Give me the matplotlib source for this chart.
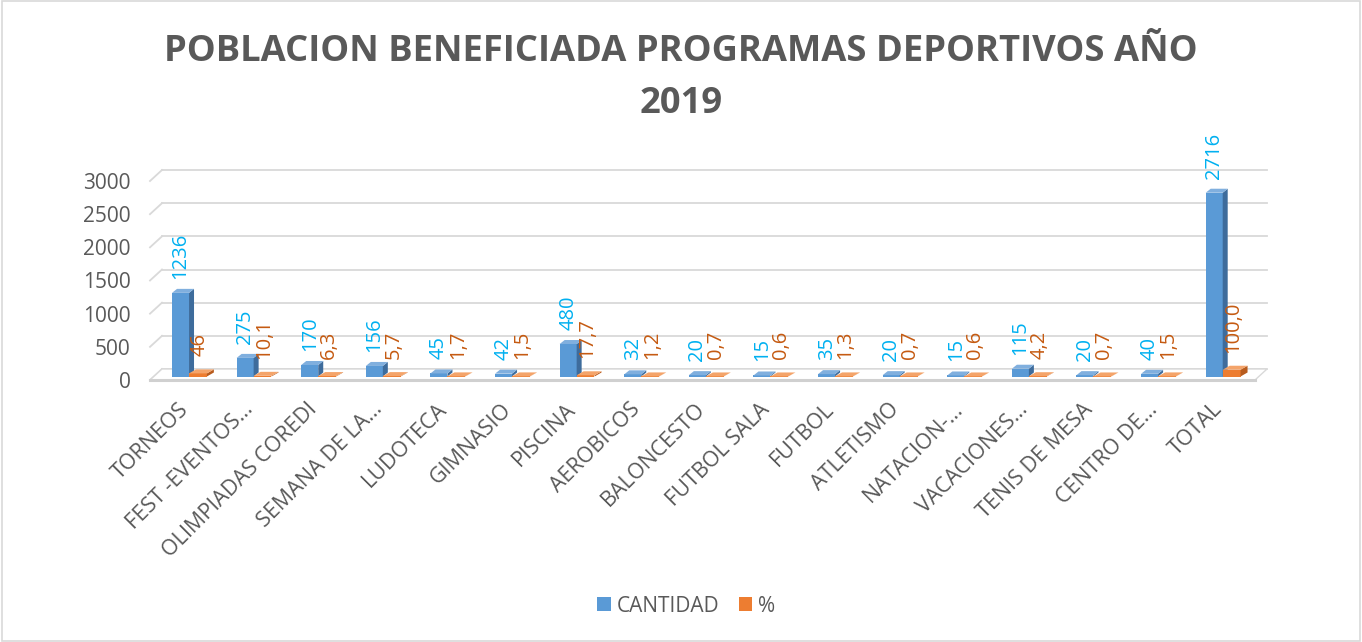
import matplotlib
matplotlib.use("Agg")
import matplotlib.pyplot as plt
from matplotlib.patches import Polygon, Patch, Rectangle
from matplotlib.transforms import ScaledTranslation

plt.rcParams["font.family"] = ["Open Sans", "DejaVu Sans"]

categories = ["TORNEOS", "FEST -EVENTOS…", "OLIMPIADAS COREDI", "SEMANA DE LA…",
              "LUDOTECA", "GIMNASIO", "PISCINA", "AEROBICOS", "BALONCESTO",
              "FUTBOL SALA", "FUTBOL", "ATLETISMO", "NATACION-…", "VACACIONES…",
              "TENIS DE MESA", "CENTRO DE…", "TOTAL"]
cantidad = [1236, 275, 170, 156, 45, 42, 480, 32, 20, 15, 35, 20, 15, 115, 20, 40, 2716]
porcentaje = [46, 10.1, 6.3, 5.7, 1.7, 1.5, 17.7, 1.2, 0.7, 0.6, 1.3, 0.7, 0.6, 4.2, 0.7, 1.5, 100.0]
pct_labels = ["46", "10,1", "6,3", "5,7", "1,7", "1,5", "17,7", "1,2", "0,7", "0,6",
              "1,3", "0,7", "0,6", "4,2", "0,7", "1,5", "100,0"]
yticks = [0, 500, 1000, 1500, 2000, 2500, 3000]

W, H = 1362, 642
fig = plt.figure(figsize=(W / 100, H / 100), dpi=100)
fig.patch.set_facecolor("white")
fig.add_artist(Rectangle((0.0015, 0.002), 0.997, 0.996, transform=fig.transFigure,
                         fill=False, edgecolor="#D9D9D9", linewidth=1.2))

x0, x1 = -0.604, 16.5
ax_l, ax_r = 150, 1255


def make_axes(bottom, top):
    a = fig.add_axes([ax_l / W, 1 - bottom / H, (ax_r - ax_l) / W, (bottom - top) / H])
    a.set_xlim(x0, x1)
    a.set_ylim(0, 3000)
    a.set_facecolor("none")
    for s in a.spines.values():
        s.set_visible(False)
    a.tick_params(axis="both", length=0)
    return a


# front plane carries the ticks, gridlines and floor; the bars stand a bit deeper
ax = make_axes(380, 181)
axb = make_axes(376.5, 173.5)
axb.set_xticks([])
axb.set_yticks([])

px_x = (x1 - x0) / (ax_r - ax_l)      # data x per pixel
px_y = 3000 / (380 - 181)             # data y per pixel (front plane)

gdx, gdy = 12 * px_x, 11 * px_y
for v in yticks:
    ax.plot([x0 + gdx, x1 + gdx], [v + gdy, v + gdy], color="#D9D9D9", lw=1.3,
            clip_on=False, zorder=1)
    ax.plot([x0, x0 + gdx], [v, v + gdy], color="#D9D9D9", lw=1.3, clip_on=False, zorder=1)

ax.add_patch(Polygon([(x0, 0), (x1, 0), (x1 + gdx, gdy), (x0 + gdx, gdy)], closed=True,
                     facecolor="white", edgecolor="#D9D9D9", lw=1.0, clip_on=False, zorder=1.5))
ax.plot([x0, x1], [0, 0], color="#D0D0D0", lw=2.2, clip_on=False, zorder=1.6)

bpx_x = px_x
bpx_y = 3000 / (376.5 - 173.5)


def bar3d(xl, w, h, front, side, top, dx=6, dy=5):
    ddx, ddy = dx * bpx_x, dy * bpx_y
    axb.add_patch(Polygon([(xl, 0), (xl + w, 0), (xl + w, h), (xl, h)], closed=True,
                          facecolor=front, edgecolor="none", clip_on=False, zorder=3))
    axb.add_patch(Polygon([(xl + w, 0), (xl + w + ddx, ddy), (xl + w + ddx, h + ddy), (xl + w, h)],
                          closed=True, facecolor=side, edgecolor="none", clip_on=False, zorder=3))
    axb.add_patch(Polygon([(xl, h), (xl + w, h), (xl + w + ddx, h + ddy), (xl + ddx, h + ddy)],
                          closed=True, facecolor=top, edgecolor="none", clip_on=False, zorder=3))


bw = 17 * bpx_x
for i, (c, p) in enumerate(zip(cantidad, porcentaje)):
    bar3d(i - bw, bw, c, "#5A9AD6", "#3E6C9C", "#80AFDE", dx=5, dy=4)
    bar3d(i, bw * 1.05, p, "#ED7D31", "#B85C1E", "#F4A46A", dx=7, dy=4)
    axb.annotate(str(c), (i - bw / 2, c), xytext=(0, 14), textcoords="offset pixels",
                 rotation=90, ha="center", va="bottom", fontsize=14.5, color="#00B0F0",
                 annotation_clip=False, zorder=5)
    axb.annotate(pct_labels[i], (i + bw / 2, p), xytext=(2, 17), textcoords="offset pixels",
                 rotation=90, ha="center", va="bottom", fontsize=14.5, color="#C55A11",
                 annotation_clip=False, zorder=5)

ax.set_yticks(yticks)
ax.set_yticklabels([str(v) for v in yticks], fontsize=15, color="#595959")
ax.tick_params(axis="y", pad=14)
ax.set_xticks(range(len(categories)))
ax.set_xticklabels(categories, rotation=45, ha="right", va="center", rotation_mode="anchor",
                   fontsize=15.5, color="#595959")
ax.tick_params(axis="x", pad=19)
shift = ScaledTranslation(-4 / 100, 0, fig.dpi_scale_trans)
for lab in ax.get_xticklabels():
    lab.set_transform(lab.get_transform() + shift)

fig.text(0.5, 1 - 52 / H, "POBLACION BENEFICIADA PROGRAMAS DEPORTIVOS AÑO",
         ha="center", va="center", fontsize=26.2, fontweight="bold", color="#595959")
fig.text(0.5, 1 - 104 / H, "2019", ha="center", va="center", fontsize=26.2,
         fontweight="bold", color="#595959")

handles = [Patch(facecolor="#5A9AD6", edgecolor="none", label="CANTIDAD"),
           Patch(facecolor="#ED7D31", edgecolor="none", label="%")]
fig.legend(handles=handles, loc="center", bbox_to_anchor=(0.504, 1 - 606 / H), ncol=2,
           frameon=False, fontsize=15, labelcolor="#595959", handlelength=0.65,
           handleheight=0.65, handletextpad=0.3, columnspacing=0.9)

fig.savefig("out.png", dpi=100)
